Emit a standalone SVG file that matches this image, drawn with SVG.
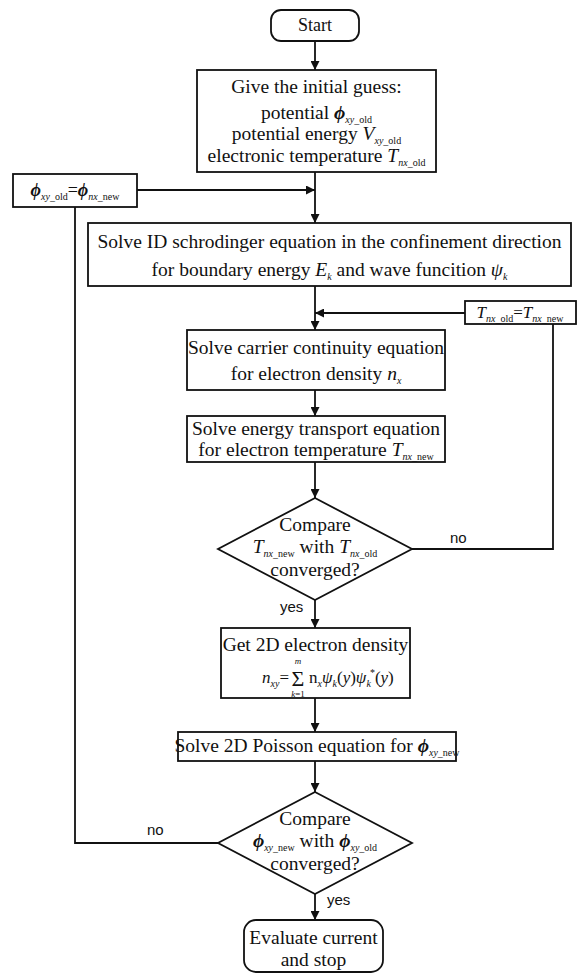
<svg xmlns="http://www.w3.org/2000/svg" width="585" height="974" viewBox="0 0 585 974">
<style>
.bx{fill:#fff;stroke:#111;stroke-width:1.8}
.ln{fill:none;stroke:#111;stroke-width:1.8}
.t{font-family:"Liberation Serif","Times New Roman",serif;font-size:19.5px;fill:#111;text-anchor:middle}
.st{text-anchor:start}
.i{font-style:italic}
.b{font-weight:bold}
.s{font-size:10px}
.lbl{font-family:"Liberation Sans",Arial,sans-serif;font-size:15px;fill:#111}
</style>
<defs>
<marker id="ah" viewBox="0 0 10 10" refX="10" refY="5" markerWidth="10" markerHeight="9" markerUnits="userSpaceOnUse" orient="auto"><path d="M0,0 L10,5 L0,10 z" fill="#111"/></marker>
</defs>
<rect width="585" height="974" fill="#fff"/>

<g id="connectors">
<line class="ln" x1="315" y1="41" x2="315" y2="70" marker-end="url(#ah)"/>
<line class="ln" x1="315" y1="172" x2="315" y2="223" marker-end="url(#ah)"/>
<line class="ln" x1="137" y1="190" x2="315" y2="190" marker-end="url(#ah)"/>
<line class="ln" x1="315" y1="286" x2="315" y2="330" marker-end="url(#ah)"/>
<line class="ln" x1="465" y1="313" x2="315" y2="313" marker-end="url(#ah)"/>
<line class="ln" x1="315" y1="390" x2="315" y2="416" marker-end="url(#ah)"/>
<line class="ln" x1="315" y1="462" x2="315" y2="498" marker-end="url(#ah)"/>
<line class="ln" x1="315" y1="600" x2="315" y2="628" marker-end="url(#ah)"/>
<polyline class="ln" points="412,549 553,549 553,324"/>
<line class="ln" x1="315" y1="698" x2="315" y2="732" marker-end="url(#ah)"/>
<line class="ln" x1="315" y1="761" x2="315" y2="792" marker-end="url(#ah)"/>
<line class="ln" x1="315" y1="894" x2="315" y2="920" marker-end="url(#ah)"/>
<polyline class="ln" points="218,843 75,843 75,207"/>
<text class="lbl" x="450" y="543">no</text>
<text class="lbl" x="280" y="612">yes</text>
<text class="lbl" x="147" y="835">no</text>
<text class="lbl" x="327" y="905">yes</text>
</g>

<g id="start">
<rect class="bx" x="271" y="10" width="88" height="31" rx="10"/>
<text class="t" x="315" y="31" style="font-size:18px">Start</text>
</g>

<g id="initial">
<rect class="bx" x="197" y="70" width="239" height="102"/>
<text class="t" x="316.5" y="93">Give the initial guess:</text>
<text class="t" x="316.5" y="119">potential <tspan class="i b">ϕ</tspan><tspan class="s" dy="4"><tspan class="i">xy</tspan>_old</tspan></text>
<text class="t" x="316.5" y="140">potential energy <tspan class="i">V</tspan><tspan class="s" dy="4"><tspan class="i">xy</tspan>_old</tspan></text>
<text class="t" x="316.5" y="162">electronic temperature <tspan class="i">T</tspan><tspan class="s" dy="4"><tspan class="i">nx</tspan>_old</tspan></text>
</g>

<g id="phi-update">
<rect class="bx" x="13" y="174" width="124" height="33"/>
<text class="t" x="75" y="196" style="font-size:18px"><tspan class="i b">ϕ</tspan><tspan class="s" dy="4"><tspan class="i">xy</tspan>_old</tspan><tspan dy="-4">=</tspan><tspan class="i b">ϕ</tspan><tspan class="s" dy="4"><tspan class="i">nx</tspan>_new</tspan></text>
</g>

<g id="schrodinger">
<rect class="bx" x="88" y="223" width="483" height="63"/>
<text class="t" x="329.5" y="248">Solve ID schrodinger equation in the confinement direction</text>
<text class="t" x="329.5" y="276">for boundary energy <tspan class="i">E</tspan><tspan class="s i" dy="4">k</tspan><tspan dy="-4"> and wave funcition </tspan><tspan class="i">ψ</tspan><tspan class="s i" dy="4">k</tspan></text>
</g>

<g id="t-update">
<rect class="bx" x="465" y="301" width="111" height="23"/>
<text class="t" x="520" y="318" style="font-size:17px"><tspan class="i">T</tspan><tspan class="s" dy="4"><tspan class="i">nx</tspan>_old</tspan><tspan dy="-4">=</tspan><tspan class="i">T</tspan><tspan class="s" dy="4"><tspan class="i">nx</tspan>_new</tspan></text>
</g>

<g id="carrier">
<rect class="bx" x="187" y="330" width="258" height="60"/>
<text class="t" x="316" y="354">Solve carrier continuity equation</text>
<text class="t" x="316" y="380">for electron density <tspan class="i">n</tspan><tspan class="s i" dy="4">x</tspan></text>
</g>

<g id="energy">
<rect class="bx" x="187" y="416" width="258" height="46"/>
<text class="t" x="316" y="435">Solve energy transport equation</text>
<text class="t" x="316" y="456">for electron temperature <tspan class="i">T</tspan><tspan class="s" dy="4"><tspan class="i">nx</tspan>_new</tspan></text>
</g>

<g id="compare-t">
<polygon class="bx" points="315,498 412,549 315,600 218,549"/>
<text class="t" x="315" y="531">Compare</text>
<text class="t" x="315" y="553"><tspan class="i">T</tspan><tspan class="s" dy="4"><tspan class="i">nx</tspan>_new</tspan><tspan dy="-4"> with </tspan><tspan class="i">T</tspan><tspan class="s" dy="4"><tspan class="i">nx</tspan>_old</tspan></text>
<text class="t" x="315" y="576">converged?</text>
</g>

<g id="density2d">
<rect class="bx" x="221" y="628" width="189" height="70"/>
<text class="t" x="315.5" y="651">Get 2D electron density</text>
<text class="t st" x="262" y="683" style="font-size:17px"><tspan class="i">n</tspan><tspan class="s i" dy="4">xy</tspan><tspan dy="-4">=</tspan></text>
<text class="t" x="298" y="686" style="font-size:22px">Σ</text>
<text class="t i" x="298" y="664" style="font-size:9px">m</text>
<text class="t" x="298" y="697" style="font-size:9px"><tspan class="i">k</tspan>=1</text>
<text class="t st" x="309" y="683" style="font-size:17px">n<tspan class="s i" dy="4">x</tspan><tspan class="i" dy="-4">ψ</tspan><tspan class="s i" dy="4">k</tspan><tspan dy="-4">(</tspan><tspan class="i">y</tspan>)<tspan class="i">ψ</tspan><tspan class="s i" dy="4">k</tspan><tspan class="s" dy="-11" dx="-1">*</tspan><tspan dy="7">(</tspan><tspan class="i">y</tspan>)</text>
</g>

<g id="poisson">
<rect class="bx" x="178" y="732" width="278" height="29"/>
<text class="t" x="317" y="752">Solve 2D Poisson equation for <tspan class="i b">ϕ</tspan><tspan class="s" dy="4"><tspan class="i">xy</tspan>_new</tspan></text>
</g>

<g id="compare-phi">
<polygon class="bx" points="315,792 412,843 315,894 218,843"/>
<text class="t" x="315" y="825">Compare</text>
<text class="t" x="315" y="847"><tspan class="i b">ϕ</tspan><tspan class="s" dy="4"><tspan class="i">xy</tspan>_new</tspan><tspan dy="-4"> with </tspan><tspan class="i b">ϕ</tspan><tspan class="s" dy="4"><tspan class="i">xy</tspan>_old</tspan></text>
<text class="t" x="315" y="870">converged?</text>
</g>

<g id="end">
<rect class="bx" x="244" y="920" width="139" height="52" rx="12"/>
<text class="t" x="313.5" y="944">Evaluate current</text>
<text class="t" x="313.5" y="966">and stop</text>
</g>
</svg>
